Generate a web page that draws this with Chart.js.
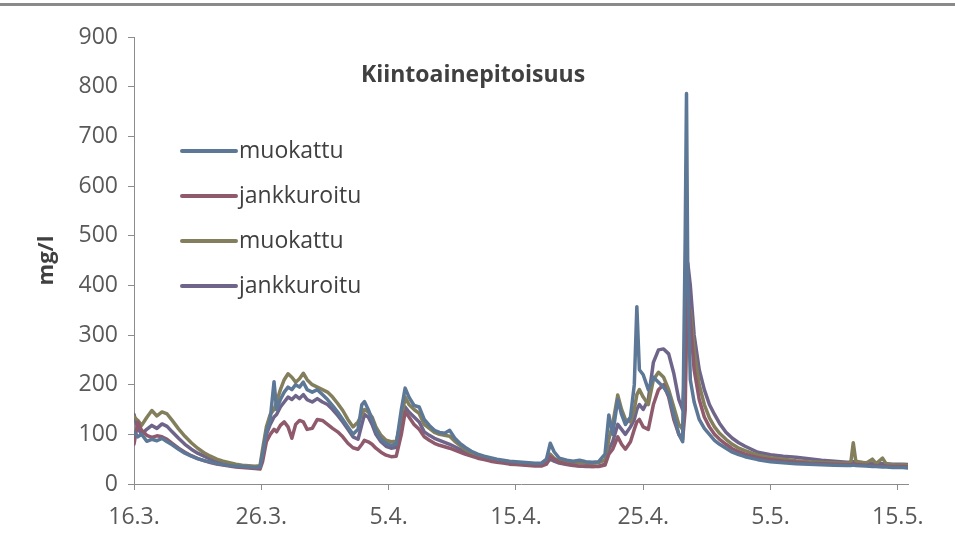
<!DOCTYPE html>
<html>
<head>
<meta charset="utf-8">
<script src="https://cdn.jsdelivr.net/npm/chart.js@4.4.1/dist/chart.umd.min.js"></script>
<style>
  html, body { margin: 0; padding: 0; background: #fff; }
  #wrap { position: relative; width: 955px; height: 547px; overflow: hidden; }
  #wrap canvas { position: absolute; left: 0; top: 0; }
  #frame { position: absolute; left: 0; top: 3px; width: 955px; height: 3px; background: #8a8a8a; }
</style>
</head>
<body>
<div id="wrap">
  <canvas id="chart" width="955" height="547"></canvas>
  <div id="frame"></div>
</div>
<script>
// Days counted from 16.3.; tick labels every ten days
const tickDays = [0, 10, 20, 30, 40, 50, 60];
const dayLabels = ['16.3.', '26.3.', '5.4.', '15.4.', '25.4.', '5.5.', '15.5.'];

const days = [
  0, 0.3, 0.6, 1.0, 1.4, 1.8, 2.2, 2.6, 3.0, 3.5, 4.0, 4.5, 5.0, 5.5, 6.0, 6.5, 7.0, 7.5, 8.0, 8.5, 9.0, 9.5, 9.9,
  10.1, 10.4, 10.7, 11.0, 11.2, 11.5, 11.8, 12.1, 12.4, 12.7, 13.0, 13.3, 13.6, 14.0, 14.4, 14.8, 15.2, 15.6, 16.0, 16.4, 16.8, 17.2, 17.6, 17.9, 18.1, 18.4, 18.7, 19.0, 19.4, 19.8, 20.2, 20.6,
  21.0, 21.3, 21.6, 22.0, 22.4, 22.8, 23.2, 23.6, 24.0, 24.4, 24.8, 25.2, 25.6, 26.0, 26.5, 27.0, 27.5, 28.0, 28.5, 29.0, 29.5, 30.0, 30.5, 31.0, 31.5, 32.0, 32.4, 32.7, 33.0, 33.4, 34.0, 34.5, 35.0, 35.5, 36.0, 36.5,
  37.0, 37.3, 37.6, 38.0, 38.3, 38.6, 39.0, 39.3, 39.5, 39.7, 40.0, 40.4, 40.8, 41.2, 41.6, 42.0, 42.4, 42.8, 43.1,
  43.3, 43.4, 43.5, 43.7, 44.0, 44.4, 44.8, 45.2, 45.6, 46.0, 46.5, 47.0, 47.5, 48.0, 49.0, 50.0, 51.0, 52.0, 53.0, 54.0, 55.0, 56.0, 56.3, 56.5, 56.7, 57.5, 58.0, 58.3, 58.8, 59.1, 59.6, 60.0, 60.4, 60.8
];

// Suspended solids, mg/l
const muokattu1 = [
  105, 95, 100, 86, 90, 87, 92, 85, 79, 70, 62, 56, 51, 47, 44, 41, 39, 37, 36, 35, 34, 33, 34,
  60, 105, 130, 206, 150, 170, 185, 195, 190, 200, 195, 205, 190, 185, 190, 180, 170, 158, 145, 130, 115, 100, 110, 160, 166, 150, 130, 108, 90, 82, 78, 80,
  150, 193, 175, 158, 155, 130, 118, 108, 104, 102, 108, 92, 82, 74, 66, 60, 56, 53, 50, 48, 46, 45, 44, 43, 42, 42, 50, 82, 65, 52, 48, 46, 48, 45, 44, 45,
  60, 139, 100, 170, 140, 120, 135, 200, 357, 230, 220, 190, 215, 205, 195, 180, 140, 100, 85,
  500, 786, 420, 210, 165, 130, 112, 100, 88, 80, 72, 64, 59, 55, 49, 45, 43, 41, 40, 39, 38, 37, 37, 38, 37, 36, 35, 35, 34, 34, 33, 33, 33, 32
];
const jankkuroitu1 = [
  80, 125, 108, 98, 94, 97, 95, 90, 82, 72, 64, 57, 51, 47, 43, 40, 38, 36, 34, 33, 32, 31, 30,
  45, 85, 100, 110, 105, 118, 125, 115, 92, 120, 128, 125, 110, 112, 130, 128, 120, 112, 105, 95, 82, 73, 70, 80, 88, 85, 80, 72, 64, 58, 55, 56,
  100, 145, 135, 120, 110, 95, 88, 82, 78, 75, 72, 68, 64, 60, 56, 52, 49, 46, 44, 42, 40, 39, 38, 37, 36, 36, 40, 55, 50, 44, 40, 38, 36, 36, 35, 35,
  38, 60, 70, 95, 80, 70, 85, 110, 125, 130, 115, 110, 160, 190, 200, 175, 130, 100, 90,
  150, 330, 380, 330, 230, 170, 135, 115, 100, 90, 80, 71, 65, 60, 53, 49, 46, 44, 42, 41, 40, 39, 39, 40, 39, 38, 37, 37, 36, 36, 35, 35, 35, 34
];
const muokattu2 = [
  135, 128, 118, 134, 148, 137, 145, 141, 128, 111, 96, 83, 72, 63, 56, 50, 46, 43, 40, 38, 37, 36, 37,
  70, 115, 140, 150, 165, 190, 210, 222, 215, 205, 212, 223, 210, 200, 195, 190, 185, 175, 162, 148, 130, 115, 125, 140, 150, 145, 135, 115, 98, 88, 85, 86,
  130, 175, 160, 150, 142, 120, 112, 104, 100, 98, 96, 86, 78, 70, 63, 58, 54, 51, 48, 46, 44, 43, 42, 41, 40, 40, 45, 60, 52, 46, 44, 42, 44, 42, 42, 43,
  48, 90, 120, 179, 150, 130, 125, 150, 180, 190, 175, 160, 210, 225, 215, 190, 155, 120, 110,
  200, 300, 350, 350, 270, 200, 160, 133, 115, 102, 90, 80, 72, 67, 58, 53, 50, 47, 45, 44, 43, 42, 42, 83, 46, 42, 50, 41, 52, 40, 39, 38, 39, 37
];
const jankkuroitu2 = [
  140, 112, 100, 110, 118, 112, 121, 116, 105, 92, 80, 70, 62, 56, 50, 46, 43, 40, 38, 36, 35, 34, 35,
  55, 100, 120, 135, 140, 155, 165, 175, 170, 178, 172, 180, 170, 165, 172, 165, 160, 150, 138, 125, 110, 95, 90, 120, 140, 135, 120, 100, 85, 76, 72, 74,
  110, 155, 145, 135, 125, 105, 98, 92, 88, 84, 80, 75, 70, 65, 60, 56, 52, 49, 46, 44, 42, 41, 40, 39, 38, 38, 42, 50, 46, 42, 39, 37, 36, 35, 35, 36,
  40, 70, 85, 120, 110, 100, 115, 130, 150, 160, 150, 170, 245, 270, 272, 262, 223, 170, 150,
  250, 400, 445, 400, 300, 230, 190, 160, 140, 122, 104, 92, 83, 76, 64, 59, 56, 54, 51, 48, 46, 44, 44, 45, 44, 43, 42, 42, 41, 41, 40, 40, 40, 39
];

const seriesNames = ['muokattu', 'jankkuroitu', 'muokattu', 'jankkuroitu'];
const seriesColors = ['#5d7797', '#8e5a6c', '#837f5c', '#6f6489'];
const seriesValues = [muokattu1, jankkuroitu1, muokattu2, jankkuroitu2];

const FONT = "'Open Sans', 'DejaVu Sans', sans-serif";
const TEXT = '#595959';
const AXIS = '#8c8c8c';

const datasets = seriesValues.map((vals, i) => ({
  label: seriesNames[i],
  data: days.map((d, k) => ({ x: d, y: vals[k] })),
  borderColor: seriesColors[i],
  backgroundColor: seriesColors[i],
  borderWidth: 3.5,
  pointRadius: 0,
  tension: 0,
  borderJoinStyle: 'round',
  borderCapStyle: 'round'
}));

// Title and legend sit inside the plot area
const insideLabels = {
  id: 'insideLabels',
  afterDraw(chart) {
    const ctx = chart.ctx;
    ctx.save();
    ctx.fillStyle = '#404040';
    ctx.font = `bold 23px ${FONT}`;
    ctx.textAlign = 'center';
    ctx.textBaseline = 'middle';
    ctx.fillText('Kiintoainepitoisuus', 473, 75);

    ctx.font = `23px ${FONT}`;
    ctx.textAlign = 'left';
    chart.data.datasets.forEach((ds, i) => {
      const y = 151 + i * 45;
      ctx.strokeStyle = ds.borderColor;
      ctx.lineWidth = 4;
      ctx.lineCap = 'round';
      ctx.beginPath();
      ctx.moveTo(182, y);
      ctx.lineTo(236, y);
      ctx.stroke();
      ctx.fillStyle = '#404040';
      ctx.fillText(ds.label, 239, y);
    });
    ctx.restore();
  }
};

new Chart(document.getElementById('chart'), {
  type: 'line',
  data: { datasets },
  plugins: [insideLabels],
  options: {
    responsive: false,
    animation: false,
    devicePixelRatio: 1,
    layout: { padding: { left: 0, right: 47, top: 37, bottom: 0 } },
    plugins: {
      legend: { display: false },
      tooltip: { enabled: false }
    },
    scales: {
      x: {
        type: 'linear',
        min: 0,
        max: 60.8,
        afterBuildTicks: s => { s.ticks = tickDays.map(v => ({ value: v })); },
        afterFit: s => { s.height = 63; },
        ticks: {
          callback: v => dayLabels[tickDays.indexOf(v)],
          font: { family: FONT, size: 23 },
          color: TEXT,
          padding: 14,
          maxRotation: 0,
          autoSkip: false
        },
        grid: { drawOnChartArea: false, drawTicks: true, tickLength: 6, color: AXIS },
        border: { color: AXIS, width: 1 }
      },
      y: {
        min: 0,
        max: 900,
        afterFit: s => { s.width = 134; },
        ticks: {
          stepSize: 100,
          font: { family: FONT, size: 23 },
          color: TEXT,
          padding: 10
        },
        grid: { drawOnChartArea: false, drawTicks: true, tickLength: 6, color: AXIS },
        border: { color: AXIS, width: 1 },
        title: {
          display: true,
          text: 'mg/l',
          font: { family: FONT, size: 22, weight: 'bold' },
          color: '#404040',
          padding: { top: 34, bottom: 0 }
        }
      }
    }
  }
});
</script>
</body>
</html>
